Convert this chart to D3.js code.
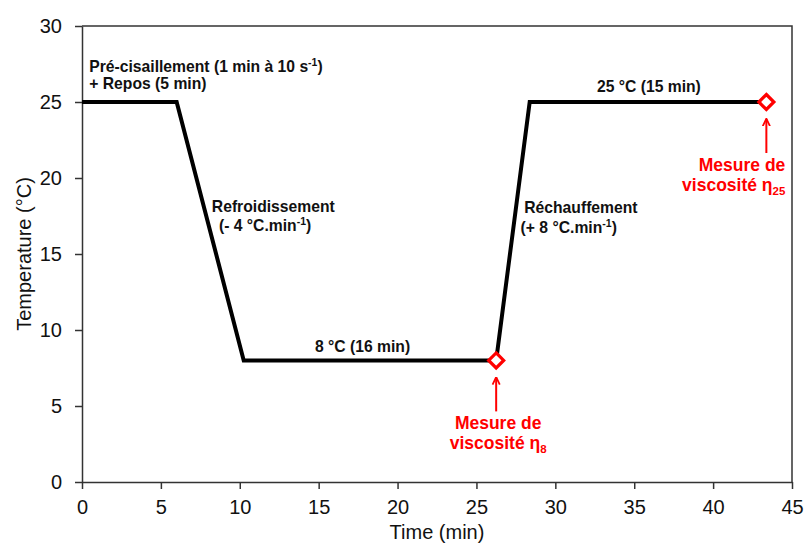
<!DOCTYPE html>
<html>
<head>
<meta charset="utf-8">
<script src="https://cdn.jsdelivr.net/npm/d3@7"></script>
<style>
  body { margin: 0; background: #fff; }
  svg { font-family: Arial, "Liberation Sans", sans-serif; }
</style>
</head>
<body>
<div id="chart"></div>
<script>
// temperature program
const timeMin = [0, 6, 10.25, 26.25, 28.375, 43.375];
const tempC = [25, 25, 8, 8, 25, 25];

// viscosity measurement points
const measureTime = [26.25, 43.375];
const measureTemp = [8, 25];
const measureSub = ['8', '25'];

const xTicks = [0, 5, 10, 15, 20, 25, 30, 35, 40, 45];
const yTicks = [0, 5, 10, 15, 20, 25, 30];

const width = 806;
const height = 543;
const margin = { left: 82, top: 26, right: 14, bottom: 61 };

const x = d3.scaleLinear().domain([0, 45]).range([margin.left, width - margin.right]);
const y = d3.scaleLinear().domain([0, 30]).range([height - margin.bottom, margin.top]);

const svg = d3.select('#chart')
  .append('svg')
  .attr('width', width)
  .attr('height', height);

const axisCol = '#333';
const red = '#ff0000';

// frame (top + right)
svg.append('path')
  .attr('d', `M${x(0)},${y(30)}H${x(45)}V${y(0)}`)
  .attr('fill', 'none')
  .attr('stroke', axisCol)
  .attr('stroke-width', 1.5);

const xAxis = svg.append('g')
  .attr('transform', `translate(0,${y(0)})`)
  .call(d3.axisBottom(x).tickValues(xTicks).tickSize(7).tickSizeOuter(0).tickPadding(11));

const yAxis = svg.append('g')
  .attr('transform', `translate(${x(0)},0)`)
  .call(d3.axisLeft(y).tickValues(yTicks).tickSize(7).tickSizeOuter(0).tickPadding(13));

[xAxis, yAxis].forEach(g => {
  g.select('.domain').attr('stroke', axisCol).attr('stroke-width', 1.5);
  g.selectAll('.tick line').attr('stroke', axisCol).attr('stroke-width', 1.5);
  g.selectAll('.tick text')
    .style('font-size', '20px')
    .style('font-family', 'Arial, "Liberation Sans", sans-serif')
    .attr('fill', '#111');
});

svg.append('text')
  .attr('x', (x(0) + x(45)) / 2)
  .attr('y', 539)
  .attr('text-anchor', 'middle')
  .style('font-size', '20px')
  .attr('fill', '#111')
  .text('Time (min)');

svg.append('text')
  .attr('transform', `translate(31,${(y(0) + y(30)) / 2}) rotate(-90)`)
  .attr('text-anchor', 'middle')
  .style('font-size', '20px')
  .attr('fill', '#111')
  .text('Temperature (°C)');

// program line
const line = d3.line()
  .x((d, i) => x(timeMin[i]))
  .y(d => y(d));

svg.append('path')
  .datum(tempC)
  .attr('d', line)
  .attr('fill', 'none')
  .attr('stroke', '#000')
  .attr('stroke-width', 4)
  .attr('stroke-linejoin', 'miter');

// black annotations, placed in data units
function label(tx, ty, anchor, parts) {
  const t = svg.append('text')
    .attr('x', x(tx))
    .attr('y', y(ty))
    .attr('text-anchor', anchor)
    .style('font-size', '15.7px')
    .style('font-weight', 'bold')
    .attr('fill', '#111');
  parts.forEach(p => {
    if (typeof p === 'string') {
      t.append('tspan').text(p);
    } else {
      t.append('tspan')
        .attr('dy', -6)
        .style('font-size', '10.5px')
        .text(p.sup);
      t.append('tspan').attr('dy', 6).text(p.after || '');
    }
  });
}

label(0.46, 26.97, 'start', ['Pré-cisaillement (1 min à 10 s', { sup: '-1', after: ')' }]);
label(0.46, 25.86, 'start', ['+ Repos (5 min)']);
label(8.23, 17.76, 'start', ['Refroidissement']);
label(8.68, 16.51, 'start', ['(- 4 °C.min', { sup: '-1', after: ')' }]);
label(17.78, 8.55, 'middle', ['8 °C (16 min)']);
label(28.03, 17.7, 'start', ['Réchauffement']);
label(27.8, 16.38, 'start', ['(+ 8 °C.min', { sup: '-1', after: ')' }]);
label(35.93, 25.66, 'middle', ['25 °C (15 min)']);

// measurement arrows + labels
svg.append('defs').append('marker')
  .attr('id', 'head')
  .attr('viewBox', '0 0 10 10')
  .attr('refX', 9)
  .attr('refY', 5)
  .attr('markerWidth', 4)
  .attr('markerHeight', 5)
  .attr('orient', 'auto')
  .attr('markerUnits', 'strokeWidth')
  .append('path')
  .attr('d', 'M0,0.5L9.5,5L0,9.5')
  .attr('fill', 'none')
  .attr('stroke', red)
  .attr('stroke-width', 2.2);

measureTime.forEach((t, i) => {
  const cx = x(t);
  const cy = y(measureTemp[i]);

  svg.append('line')
    .attr('x1', cx).attr('x2', cx)
    .attr('y1', cy + 51).attr('y2', cy + 17)
    .attr('stroke', red)
    .attr('stroke-width', 2)
    .attr('marker-end', 'url(#head)');

  const anchor = i === 0 ? 'middle' : 'end';
  const tx = i === 0 ? cx + 2 : cx + 19;

  const g = svg.append('g')
    .attr('fill', red)
    .style('font-weight', 'bold')
    .style('font-size', '17.5px');

  g.append('text')
    .attr('x', tx).attr('y', cy + 69)
    .attr('text-anchor', anchor)
    .text('Mesure de');

  const t2 = g.append('text')
    .attr('x', tx).attr('y', cy + 89)
    .attr('text-anchor', anchor);
  t2.append('tspan').text('viscosité η');
  t2.append('tspan')
    .attr('dy', 4)
    .style('font-size', '11.5px')
    .text(measureSub[i]);
});

// diamond markers
svg.selectAll('.meas')
  .data(measureTime)
  .join('path')
  .attr('class', 'meas')
  .attr('transform', (d, i) => `translate(${x(d)},${y(measureTemp[i])})`)
  .attr('d', 'M0,-7.5L7.5,0L0,7.5L-7.5,0Z')
  .attr('fill', '#fff')
  .attr('stroke', red)
  .attr('stroke-width', 3.2);
</script>
</body>
</html>
